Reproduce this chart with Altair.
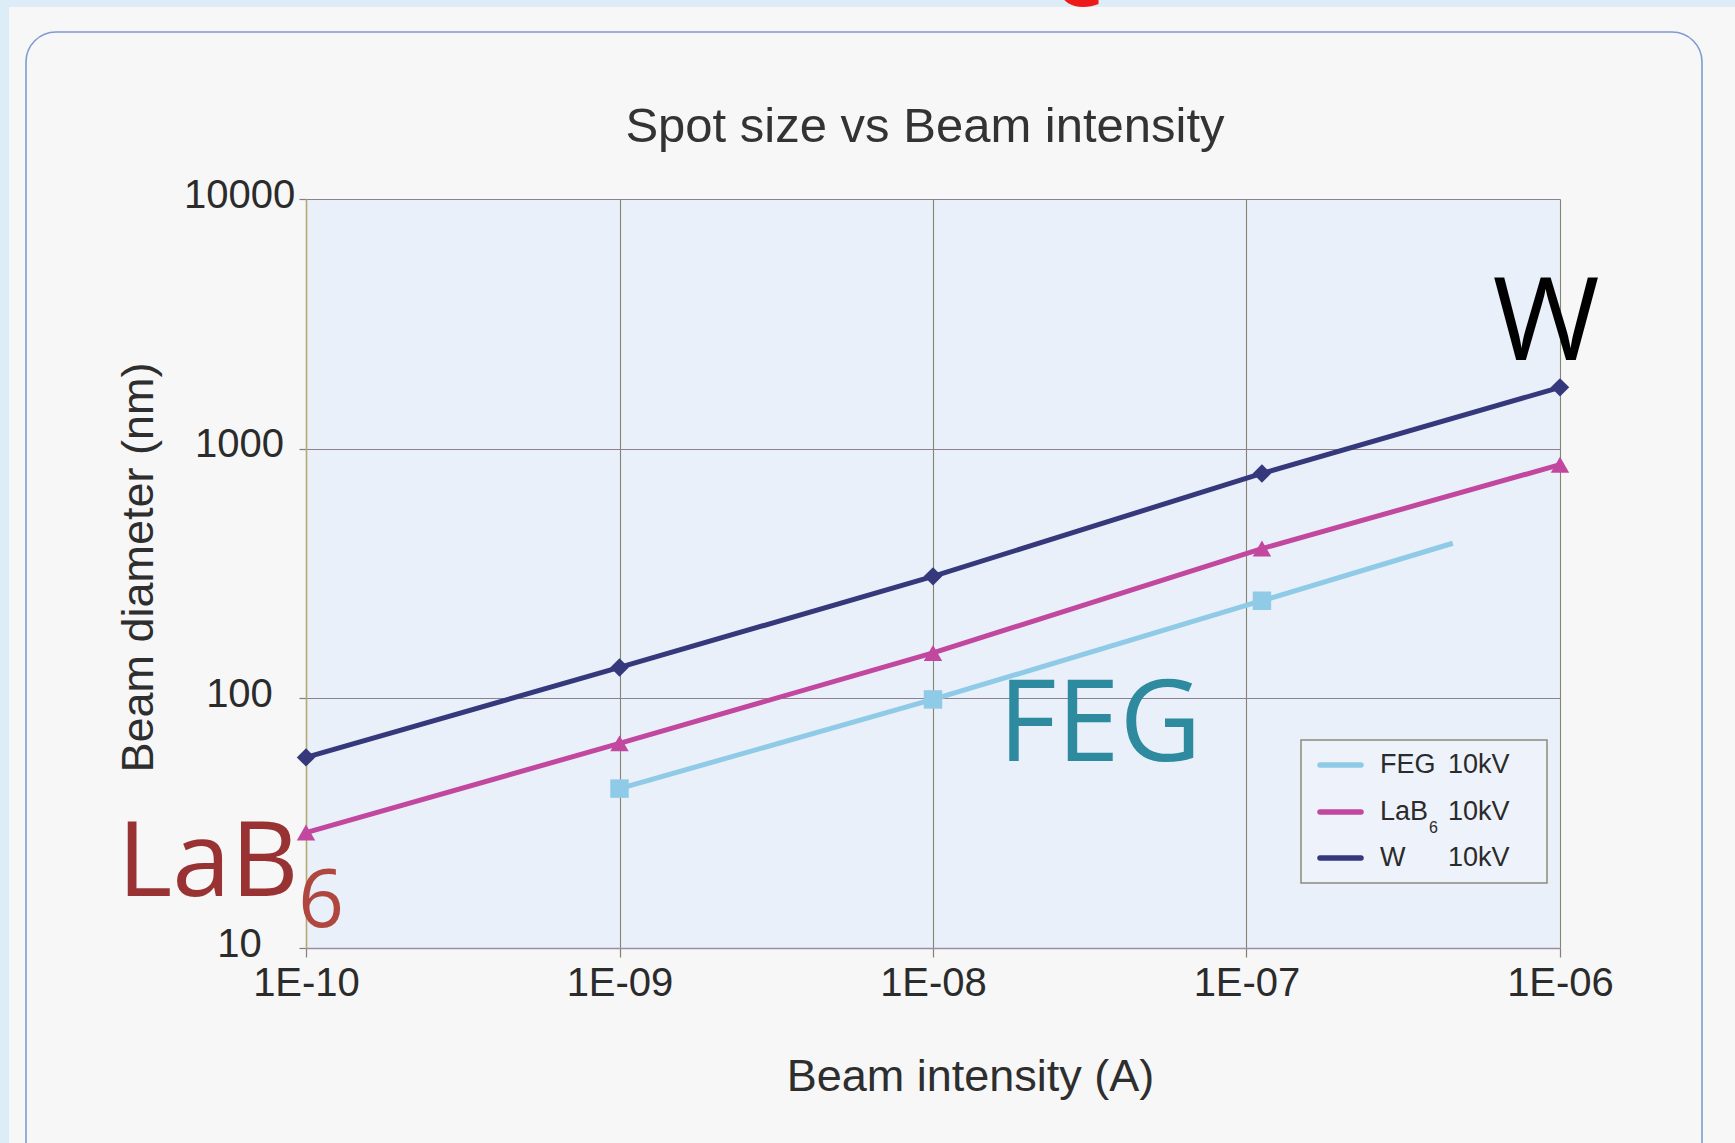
import altair as alt
import pandas as pd

# Probe diameter (nm) against beam current (A) for three electron sources at 10 kV
series_names = ["FEG", "LaB6", "W"]
series_colors = ["#8fcae6", "#c2479e", "#35387b"]
series_shapes = ["square", "triangle-up", "diamond"]

w_current = [1e-10, 1e-9, 1e-8, 1.12e-7, 1e-6]
w_diameter = [58, 133, 308, 796, 1760]

lab6_current = [1e-10, 1e-9, 1e-8, 1.12e-7, 1e-6]
lab6_diameter = [29, 66, 152, 398, 863]

feg_current = [1e-9, 1e-8, 1.12e-7, 4.55e-7]
feg_diameter = [43.5, 99, 246, 418]
feg_marked = [True, True, True, False]

x_ticks = [1e-10, 1e-9, 1e-8, 1e-7, 1e-6]
y_ticks = [10, 100, 1000, 10000]

legend_names = ["FEG", "LaB", "W"]
legend_subscripts = ["", "6", ""]
legend_voltage = "10kV"

rows = []
for name, xs, ys, marks in [
    ("FEG", feg_current, feg_diameter, feg_marked),
    ("LaB6", lab6_current, lab6_diameter, [True] * len(lab6_current)),
    ("W", w_current, w_diameter, [True] * len(w_current)),
]:
    for i, (x, y, m) in enumerate(zip(xs, ys, marks)):
        rows.append({"series": name, "current": x, "diameter": y, "idx": i, "marked": m})
df = pd.DataFrame(rows)
one = pd.DataFrame({"k": [0]})

# plot frame in page pixels
PAD_L, PAD_T, PLOT_W, PLOT_H = 306, 199, 1254, 749
PAGE_W, PAGE_H = 1735, 1143

AXIS_FONT = "Liberation Sans"
NOTE_FONT = "Open Sans"

exp_expr = "abs(round(log(datum.value) / LN10))"
x_label_expr = f"'1E-' + ({exp_expr} < 10 ? '0' : '') + {exp_expr}"

x_enc = alt.X(
    "current:Q",
    scale=alt.Scale(type="log", domain=[1e-10, 1e-6], nice=False),
    axis=alt.Axis(
        values=x_ticks, labelExpr=x_label_expr,
        title="Beam intensity (A)", titleFont=AXIS_FONT, titleFontSize=45,
        titleFontWeight="normal", titleColor="#2e2e2e",
        titleX=664, titleY=142, titleBaseline="alphabetic", titleAlign="center",
        labelFont=AXIS_FONT, labelFontSize=40, labelColor="#2b2b2b",
        labelPadding=6, labelFlush=False, labelOverlap=False,
        tickSize=9, tickColor="#857f78", tickWidth=1.2,
        domainColor="#9c8ea4", domainWidth=1.5,
        grid=True, gridColor="#86846f", gridWidth=1.1,
    ),
)
y_enc = alt.Y(
    "diameter:Q",
    scale=alt.Scale(type="log", domain=[10, 10000], nice=False),
    axis=alt.Axis(
        values=y_ticks, format="d",
        title="Beam diameter (nm)", titleFont=AXIS_FONT, titleFontSize=45,
        titleFontWeight="normal", titleColor="#2e2e2e",
        titleX=-154, titleY=368, titleBaseline="alphabetic", titleAlign="center",
        labelFont=AXIS_FONT, labelFontSize=40, labelColor="#2b2b2b",
        labelAlign="center", labelBaseline="middle", labelPadding=60, labelOffset=-4,
        labelFlush=False, labelOverlap=False,
        tickSize=7, tickColor="#857f78", tickWidth=1.2,
        domainColor="#b5ab6c", domainWidth=1.5,
        grid=True, gridColor="#8b8190", gridWidth=1.1,
    ),
)
color_enc = alt.Color("series:N", scale=alt.Scale(domain=series_names, range=series_colors), legend=None)
shape_enc = alt.Shape("series:N", scale=alt.Scale(domain=series_names, range=series_shapes), legend=None)


def box(x, x2, y, y2, **mark):
    return alt.Chart(one).mark_rect(**mark).encode(
        x=alt.value(x), x2=alt.value(x2), y=alt.value(y), y2=alt.value(y2)
    )


def label(text, x, y, **mark):
    return alt.Chart(one).mark_text(text=text, **mark).encode(x=alt.value(x), y=alt.value(y))


layers = []

# page framing: blue margins and the rounded panel outline
layers.append(box(-PAD_L, PAGE_W - PAD_L, -PAD_T, -PAD_T + 7, fill="#ddedf7"))
layers.append(box(-PAD_L, -PAD_L + 9, -PAD_T, PAGE_H - PAD_T, fill="#ddedf7"))
layers.append(label("C", 772, -193, font=NOTE_FONT, fontSize=80, fontWeight="bold",
                    color="#ee1a1a", align="center", baseline="alphabetic"))
layers.append(box(26 - PAD_L, 1702 - PAD_L, 32 - PAD_T, 1172 - PAD_T,
                  fillOpacity=0, stroke="#7f9bd2", strokeWidth=1.6, cornerRadius=30))

# title
layers.append(label("Spot size vs Beam intensity", 619, -57, font=AXIS_FONT, fontSize=49,
                    color="#333333", align="center", baseline="alphabetic"))

# data
layers.append(
    alt.Chart(df).mark_line(strokeWidth=5).encode(
        x=x_enc, y=y_enc, color=color_enc, detail="series:N", order="idx:Q"
    )
)
layers.append(
    alt.Chart(df).transform_filter("datum.marked").mark_point(filled=True, size=340, opacity=1).encode(
        x=x_enc, y=y_enc, color=color_enc, shape=shape_enc
    )
)

# legend box
layers.append(box(995, 1241, 541, 684, fill="#eef3fb", stroke="#8d8b7c", strokeWidth=1.5))
row_y = [566, 613, 659]
for name, sub, color, ry in zip(legend_names, legend_subscripts, series_colors, row_y):
    layers.append(
        alt.Chart(one).mark_rule(color=color, strokeWidth=5.5, strokeCap="round").encode(
            x=alt.value(1014), x2=alt.value(1055), y=alt.value(ry)
        )
    )
    layers.append(label(name, 1074, ry, font=AXIS_FONT, fontSize=27, color="#2b2b2b",
                        align="left", baseline="middle"))
    if sub:
        layers.append(label(sub, 1123, ry + 21, font=AXIS_FONT, fontSize=16, color="#2b2b2b",
                            align="left", baseline="alphabetic"))
    layers.append(label(legend_voltage, 1142, ry, font=AXIS_FONT, fontSize=27, color="#2b2b2b",
                        align="left", baseline="middle"))

# source annotations
layers.append(label("W", 1240, 161, font=NOTE_FONT, fontSize=116, color="#000000",
                    align="center", baseline="alphabetic"))
layers.append(label("FEG", 794, 562, font=NOTE_FONT, fontSize=113, color="#2e8a9e",
                    align="center", baseline="alphabetic"))
layers.append(label("LaB", -98, 697, font=NOTE_FONT, fontSize=105, color="#993333",
                    align="center", baseline="alphabetic"))
layers.append(label("6", 15, 728, font=NOTE_FONT, fontSize=80, color="#b0473f",
                    align="center", baseline="alphabetic"))

chart = (
    alt.layer(*layers)
    .properties(
        width=PLOT_W,
        height=PLOT_H,
        padding={"left": PAD_L, "top": PAD_T, "right": PAGE_W - PAD_L - PLOT_W, "bottom": PAGE_H - PAD_T - PLOT_H},
        autosize=alt.AutoSizeParams(type="none"),
    )
    .configure(background="#f7f7f7")
    .configure_view(fill="#e9f0fa", strokeWidth=0)
)

chart.save("out.html", embed_options={"renderer": "svg", "actions": False})
